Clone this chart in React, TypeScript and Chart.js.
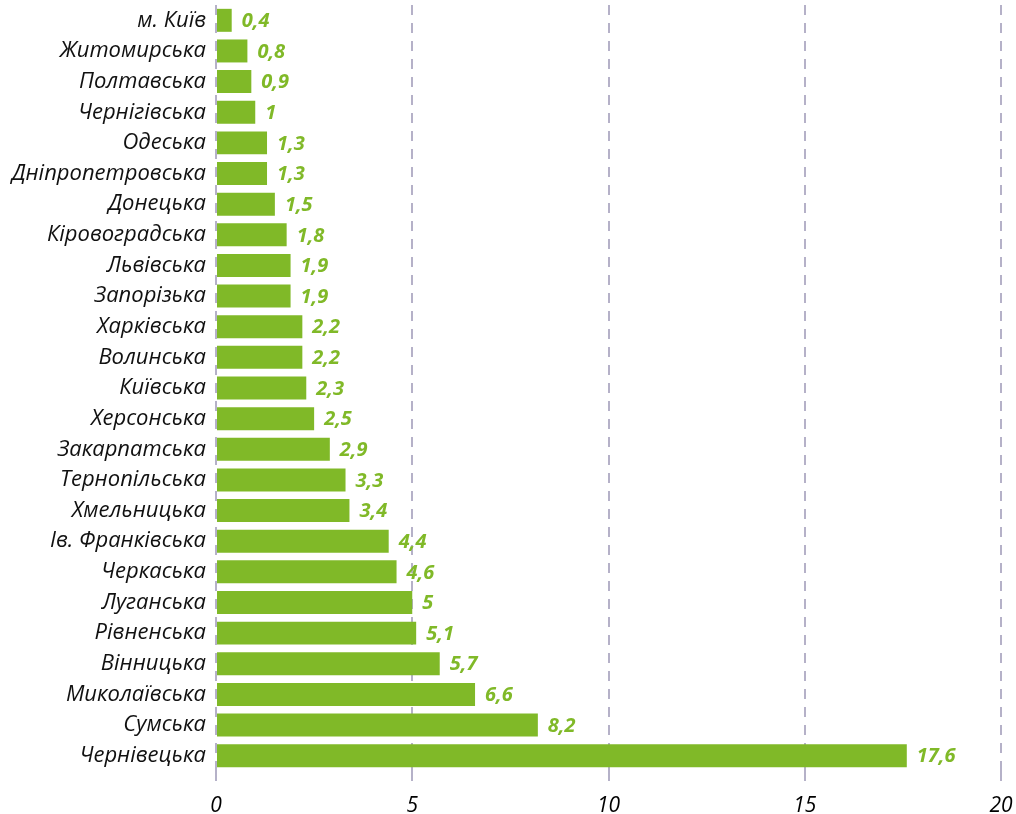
import React, { useEffect, useRef } from "react";
import { Chart, registerables } from "chart.js";

Chart.register(...registerables);

const categories = [
  "м. Київ", "Житомирська", "Полтавська", "Чернігівська", "Одеська",
  "Дніпропетровська", "Донецька", "Кіровоградська", "Львівська", "Запорізька",
  "Харківська", "Волинська", "Київська", "Херсонська", "Закарпатська",
  "Тернопільська", "Хмельницька", "Ів. Франківська", "Черкаська", "Луганська",
  "Рівненська", "Вінницька", "Миколаївська", "Сумська", "Чернівецька",
];
const values = [
  0.4, 0.8, 0.9, 1, 1.3,
  1.3, 1.5, 1.8, 1.9, 1.9,
  2.2, 2.2, 2.3, 2.5, 2.9,
  3.3, 3.4, 4.4, 4.6, 5,
  5.1, 5.7, 6.6, 8.2, 17.6,
];
const xTicks = [0, 5, 10, 15, 20];

const FONT = "'Open Sans', 'Noto Sans', sans-serif";
const GREEN = "#80b928";
const GRID = "#b5b1c8";

const valueLabels = {
  id: "valueLabels",
  afterDatasetsDraw(chart: any) {
    const ctx = chart.ctx;
    const meta = chart.getDatasetMeta(0);
    ctx.save();
    ctx.font = `italic bold 20px ${FONT}`;
    ctx.fillStyle = GREEN;
    ctx.textAlign = "left";
    ctx.textBaseline = "middle";
    meta.data.forEach((bar: any, i: number) => {
      const txt = String(values[i]).replace(".", ",");
      ctx.fillText(txt, bar.x + 10, bar.y + 1);
    });
    ctx.restore();
  },
};

export default function App() {
  const ref = useRef<HTMLCanvasElement>(null);
  useEffect(() => {
    document.body.style.margin = "0";
    const chart = new Chart(ref.current!, {
      type: "bar",
      data: {
        labels: categories,
        datasets: [
          {
            data: values,
            backgroundColor: GREEN,
            borderWidth: 0,
            barPercentage: 1,
            categoryPercentage: 0.75,
          },
        ],
      },
      plugins: [valueLabels],
      options: {
        indexAxis: "y",
        animation: false,
        responsive: false,
        maintainAspectRatio: false,
        layout: { padding: { left: 0, right: 15, top: 5, bottom: 0 } },
        plugins: { legend: { display: false }, tooltip: { enabled: false } },
        scales: {
          x: {
            min: 0,
            max: 20,
            afterBuildTicks(scale: any) {
              scale.ticks = xTicks.map((v) => ({ value: v }));
            },
            afterFit(scale: any) {
              scale.paddingRight = 0;
              scale.paddingLeft = 0;
              scale.height = 43;
            },
            border: { display: false, dash: [10, 8] },
            grid: {
              color: GRID,
              lineWidth: 2,
              drawTicks: true,
              tickLength: 10,
              tickColor: GRID,
              tickWidth: 2,
              tickBorderDash: [10, 8],
            },
            ticks: {
              color: "#000",
              font: { family: FONT, size: 21, style: "italic" },
              padding: 12,
            },
          },
          y: {
            border: { display: false },
            grid: { display: false, drawTicks: false },
            ticks: {
              color: "#111",
              font: { family: FONT, size: 22, style: "italic" },
              padding: 10,
              autoSkip: false,
            },
            afterFit(scale: any) {
              scale.width = 216;
              scale.paddingTop = 0;
              scale.paddingBottom = 0;
            },
          },
        },
      },
    });
    return () => chart.destroy();
  }, []);
  return <canvas ref={ref} width={1016} height={814} style={{ display: "block" }} />;
}
